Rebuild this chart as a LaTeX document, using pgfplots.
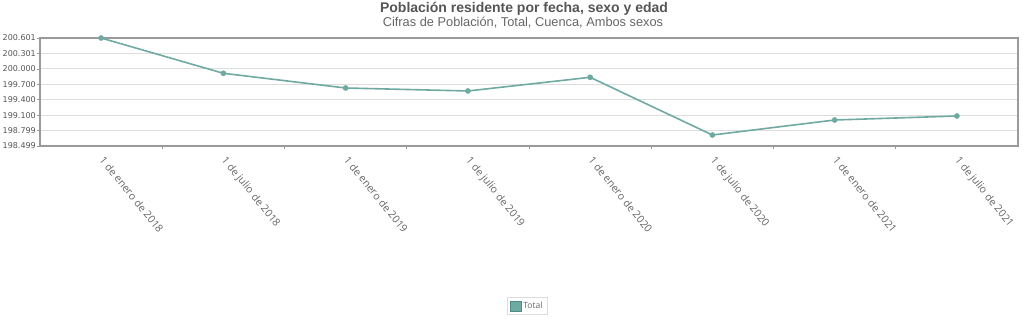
\documentclass[border=0pt]{standalone}
\usepackage{pgfplots}
\pgfplotsset{compat=1.18}
\usepackage{fontspec}
\setmainfont{Liberation Sans}
\newfontfamily\xfont{Open Sans}
\newfontfamily\yfont{DejaVu Sans}
\definecolor{serie}{HTML}{6FAAA2}
\definecolor{seriedark}{HTML}{4E8C84}
\definecolor{frame}{HTML}{9A9A9A}
\definecolor{gridc}{HTML}{DDDDDD}
\definecolor{titlec}{HTML}{555555}
\definecolor{subc}{HTML}{666666}
\begin{document}
\begin{tikzpicture}[x=1bp,y=1bp]
\useasboundingbox (0,0) rectangle (1024,335);
\node[font=\fontsize{14bp}{16bp}\selectfont\bfseries, text=titlec] at (524,326) {Población residente por fecha, sexo y edad};
\node[font=\fontsize{12.8bp}{15bp}\selectfont, text=subc] at (523,312) {Cifras de Población, Total, Cuenca, Ambos sexos};
\begin{axis}[
  at={(40bp,189bp)}, anchor=south west,
  scale only axis, width=978bp, height=108bp,
  xmin=-0.5, xmax=7.5,
  ymin=198499, ymax=200601,
  scaled y ticks=false,
  axis line style={draw=frame, line width=1.5bp},
  xtick={0.5,1.5,...,6.5},
  xticklabels={},
  xtick pos=bottom, xtick align=outside,
  x tick style={draw=frame, line width=0.6bp},
  x tick label style={font=\xfont\fontsize{10.5bp}{12bp}\selectfont, text=subc, xshift=4bp, rotate=-51, anchor=north west, inner sep=0pt},
  xticklabel shift=9bp,
  extra x ticks={0,...,7},
  extra x tick labels={1 de enero de 2018,1 de julio de 2018,1 de enero de 2019,1 de julio de 2019,1 de enero de 2020,1 de julio de 2020,1 de enero de 2021,1 de julio de 2021},
  extra x tick style={major tick length=0pt, grid=none},
  ytick={198499,198799,199100,199400,199700,200000,200301,200601},
  yticklabels={198.499,198.799,199.100,199.400,199.700,200.000,200.301,200.601},
  y tick label style={font=\yfont\fontsize{8bp}{10bp}\selectfont, text=titlec, inner sep=1bp},
  ytick pos=left, ytick align=outside,
  y tick style={draw=frame, line width=0.6bp},
  major tick length=3bp,
  ymajorgrids, grid style={draw=gridc, line width=0.8bp},
  legend style={at={(0.498,-1.481)}, anchor=center, draw=gridc, font=\xfont\fontsize{8.5bp}{10bp}\selectfont, text=subc, inner sep=2.5bp, row sep=0pt},
  legend image code/.code={\draw[fill=serie, draw=seriedark, line width=0.6bp] (0bp,-5bp) rectangle (11bp,5bp);},
]
\addplot[color=serie, line width=1.6bp, mark=*, mark size=2bp, mark options={fill=serie, draw=serie}] coordinates {
(0,200601) (1,199914) (2,199628) (3,199570) (4,199836) (5,198713) (6,199005) (7,199083)
};
\addlegendentry{Total}
\end{axis}
\end{tikzpicture}
\end{document}
